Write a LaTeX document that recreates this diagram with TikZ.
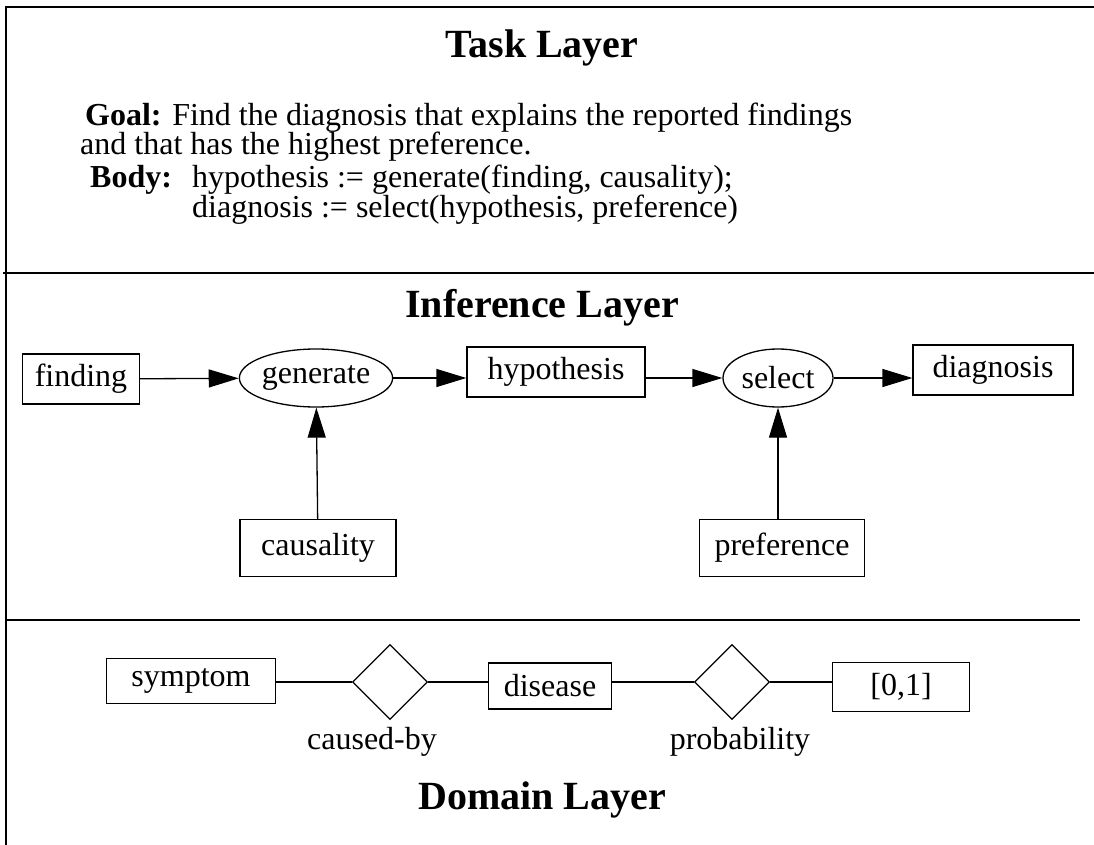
\documentclass[tikz,border=0pt]{standalone}
\usepackage{fontspec}
\setmainfont{Liberation Serif}
\usetikzlibrary{shapes.geometric,arrows.meta}

\begin{document}
\begin{tikzpicture}[x=1pt,y=-1pt,
  every node/.style={font=\fontsize{32}{29}\selectfont},
  layertitle/.style={font=\fontsize{40}{44}\selectfont\bfseries},
  frame/.style={line width=2pt},
  entity/.style={draw,line width=1.3pt,inner sep=0pt,minimum height=50pt},
  infer/.style={draw,ellipse,line width=1.3pt,inner sep=0pt,minimum height=58pt},
  relation/.style={draw,diamond,line width=1.3pt,inner sep=0pt,minimum width=75pt,minimum height=75pt},
  flow/.style={line width=1.3pt,-{Triangle[length=30pt,width=18pt]}},
  link/.style={line width=1.3pt}]

\useasboundingbox (0,0) rectangle (1094,845);

\draw[frame] (1094,7) -- (6,7) -- (6,845);
\draw[frame] (3,273) -- (1094,273);
\draw[line width=1.5pt] (6,620) -- (1080,620);

\node[layertitle] (task) at (542,48) {Task Layer};
\node[anchor=base west,inner sep=0pt] (goal) at (85,126) {\textbf{Goal:} Find the diagnosis that explains the reported findings};
\node[anchor=base west,inner sep=0pt] (goal2) at (80,155) {and that has the highest preference.};
\node[anchor=base west,inner sep=0pt] (bodylbl) at (90,188) {\textbf{Body:}};
\node[anchor=base west,inner sep=0pt] (body1) at (192,188) {hypothesis := generate(finding, causality);};
\node[anchor=base west,inner sep=0pt] (body2) at (192,217) {diagnosis := select(hypothesis, preference)};

\node[layertitle] (inference) at (542,308) {Inference Layer};
\node[entity,minimum width=117pt] (finding) at (81,379) {finding};
\node[infer,minimum width=152pt] (generate) at (316,378) {generate};
\node[entity,minimum width=178pt] (hypothesis) at (556,372) {hypothesis};
\node[infer,minimum width=110pt] (select) at (778,378) {select};
\node[entity,minimum width=160pt] (diagnosis) at (993,370) {diagnosis};
\node[entity,minimum width=156pt,minimum height=57pt] (causality) at (318,548) {causality};
\node[entity,minimum width=165pt,minimum height=57pt] (preference) at (782,548) {preference};

\path
(finding) edge [flow] (generate)
(generate.east) edge [flow] (generate.east -| hypothesis.west)
(hypothesis.east |- select.west) edge [flow] (select.west)
(select.east) edge [flow] (select.east -| diagnosis.west)
(causality) edge [flow] (generate)
(preference.north -| select.south) edge [flow] (select.south)
;

\node[entity,minimum width=169pt,minimum height=45pt] (symptom) at (191,681) {symptom};
\node[relation] (causedby) at (390,682) {};
\node[entity,minimum width=123pt,minimum height=46pt] (disease) at (550,686) {disease};
\node[relation] (probability) at (732,682) {};
\node[entity,minimum width=137pt,minimum height=49pt] (unit) at (901,687) {[0,1]};
\node (causedbylbl) at (372,742) {caused-by};
\node (probabilitylbl) at (740,742) {probability};

\path
(symptom.east |- causedby.west) edge [link] (causedby.west)
(causedby.east) edge [link] (causedby.east -| disease.west)
(disease.east |- probability.west) edge [link] (probability.west)
(probability.east) edge [link] (probability.east -| unit.west)
;

\node[layertitle] (domain) at (542,800) {Domain Layer};

\end{tikzpicture}
\end{document}
